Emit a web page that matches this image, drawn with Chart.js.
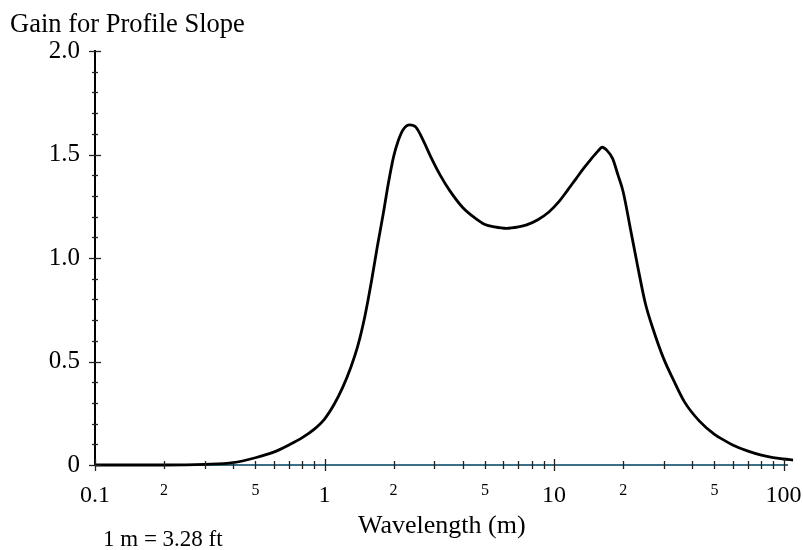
<!DOCTYPE html>
<html>
<head>
<meta charset="utf-8">
<script src="https://cdn.jsdelivr.net/npm/chart.js@4"></script>
<style>
  html, body { margin: 0; padding: 0; background: #fff; }
  #wrap { position: relative; width: 803px; height: 550px; }
  .lbl { position: absolute; font-family: "Liberation Serif", serif; color: #000; white-space: nowrap; line-height: 1; }
</style>
</head>
<body>
<div id="wrap">
  <canvas id="gainChart" width="803" height="550"></canvas>
  <div class="lbl" style="left:10px; top:10px; font-size:26.5px;">Gain for Profile Slope</div>
  <div class="lbl" style="left:358px; top:512px; font-size:26px;">Wavelength (m)</div>
  <div class="lbl" style="left:103px; top:527px; font-size:23px;">1 m = 3.28 ft</div>
</div>
<script>
// Wavelength (m) and gain
const wavelengths = [0.1, 0.2, 0.3, 0.4, 0.5, 0.6, 0.7, 0.8, 0.9, 1.0, 1.1, 1.2, 1.3, 1.4, 1.5,
  1.6, 1.7, 1.8, 1.9, 2.0, 2.1, 2.2, 2.35, 2.5, 2.7, 2.9, 3.2, 3.5, 4.0, 4.5, 5.0, 5.5, 6.2,
  7.0, 7.6, 8.5, 9.5, 10.5, 11.5, 12.5, 13.5, 14.5, 15.5, 16.2, 17, 18, 19, 20, 21.5, 23, 25,
  27, 30, 33, 37, 43, 50, 55, 60, 70, 80, 90, 100, 110];
const gains = [0, 0, 0.003, 0.011, 0.035, 0.062, 0.097, 0.132, 0.172, 0.222, 0.292, 0.375, 0.47, 0.58, 0.72,
  0.885, 1.058, 1.21, 1.365, 1.49, 1.57, 1.62, 1.643, 1.632, 1.565, 1.49, 1.398, 1.328, 1.244, 1.195, 1.162, 1.15, 1.143,
  1.15, 1.16, 1.185, 1.222, 1.272, 1.33, 1.385, 1.435, 1.478, 1.515, 1.535, 1.52, 1.48, 1.40, 1.32, 1.143, 0.975, 0.78,
  0.657, 0.515, 0.415, 0.305, 0.212, 0.148, 0.12, 0.097, 0.067, 0.048, 0.036, 0.029, 0.024];

// Axis ticks
const xTicks = [0.1, 0.2, 0.3, 0.4, 0.5, 0.6, 0.7, 0.8, 0.9, 1, 2, 3, 4, 5, 6, 7, 8, 9,
  10, 20, 30, 40, 50, 60, 70, 80, 90, 100];
const xMajor = [0.1, 1, 10, 100];
const xMinorLabeled = [0.2, 0.5, 2, 5, 20, 50];
const yTicks = [0, 0.1, 0.2, 0.3, 0.4, 0.5, 0.6, 0.7, 0.8, 0.9, 1.0, 1.1, 1.2, 1.3, 1.4, 1.5,
  1.6, 1.7, 1.8, 1.9, 2.0];
const yLabels = { 0: '0', 0.5: '0.5', 1: '1.0', 1.5: '1.5', 2: '2.0' };

const near = (a, b) => Math.abs(a - b) < 1e-6 * Math.max(1, b);
const isIn = (v, arr) => arr.some(a => near(v, a));

// ticks crossing the axis lines
const crossTicks = {
  id: 'crossTicks',
  afterDraw(chart) {
    const { ctx, scales: { x, y } } = chart;
    ctx.save();
    ctx.strokeStyle = '#222';
    ctx.lineWidth = 1.3;
    const y0 = y.getPixelForValue(0);
    xTicks.forEach(v => {
      const px = Math.round(x.getPixelForValue(v)) + 0.5;
      const h = isIn(v, xMajor) ? 6 : 4;
      ctx.beginPath(); ctx.moveTo(px, y0 - h); ctx.lineTo(px, y0 + h); ctx.stroke();
    });
    const x0 = x.left;
    yTicks.forEach(v => {
      const py = Math.round(y.getPixelForValue(v)) + 0.5;
      const w = yLabels[v] !== undefined ? 6 : 3;
      ctx.beginPath(); ctx.moveTo(x0 - w, py); ctx.lineTo(x0 + w, py); ctx.stroke();
    });
    ctx.restore();
  }
};

new Chart(document.getElementById('gainChart').getContext('2d'), {
  type: 'line',
  data: {
    datasets: [{
      data: wavelengths.map((w, i) => ({ x: w, y: gains[i] })),
      borderColor: '#000',
      borderWidth: 2.8,
      pointRadius: 0,
      cubicInterpolationMode: 'monotone',
      fill: false,
      clip: false
    }]
  },
  options: {
    responsive: false,
    animation: false,
    layout: { padding: { top: 51, right: 16, left: 0, bottom: 0 } },
    plugins: { legend: { display: false }, title: { display: false }, tooltip: { enabled: false } },
    scales: {
      x: {
        type: 'logarithmic',
        min: 0.1,
        max: 103.5,
        afterFit(s) { s.height = 85; s.paddingLeft = 0; s.paddingRight = 0; },
        afterBuildTicks(s) { s.ticks = xTicks.map(v => ({ value: v })); },
        border: { display: true, color: '#3a6f85', width: 2 },
        grid: { display: false, drawTicks: false },
        ticks: {
          autoSkip: false,
          maxRotation: 0,
          padding: 16,
          color: '#000',
          font: ctx => (isIn(ctx.tick.value, xMajor)
            ? { family: 'Liberation Serif', size: 24 }
            : { family: 'Liberation Serif', size: 16 }),
          callback: v => {
            if (isIn(v, xMajor)) return String(v);
            if (isIn(v, xMinorLabeled)) return String(Math.round(v / Math.pow(10, Math.floor(Math.log10(v) + 1e-9))));
            return '';
          }
        }
      },
      y: {
        min: 0,
        max: 2,
        afterFit(s) { s.width = 95; s.paddingTop = 0; s.paddingBottom = 0; },
        afterBuildTicks(s) { s.ticks = yTicks.map(v => ({ value: v })); },
        border: { display: true, color: '#000', width: 2 },
        grid: { display: false, drawTicks: false },
        ticks: {
          autoSkip: false,
          padding: 15,
          color: '#000',
          font: { family: 'Liberation Serif', size: 25 },
          callback: v => {
            const k = Object.keys(yLabels).find(key => near(v, Number(key)));
            return k !== undefined ? yLabels[k] : '';
          }
        }
      }
    }
  },
  plugins: [crossTicks]
});
</script>
</body>
</html>
